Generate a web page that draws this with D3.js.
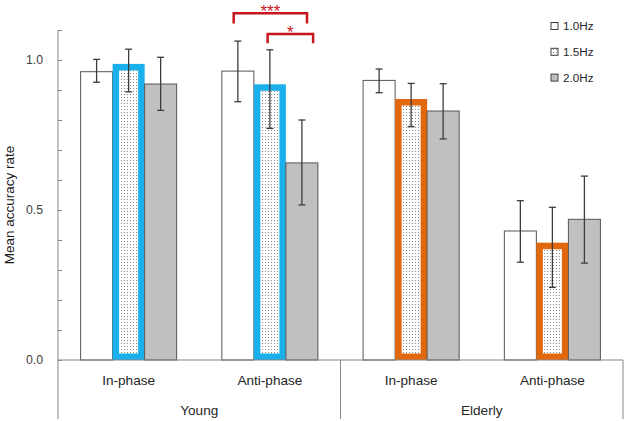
<!DOCTYPE html>
<html><head><meta charset="utf-8">
<script src="https://cdn.jsdelivr.net/npm/d3@7"></script>
<style>body{margin:0;background:#fff}svg{display:block}</style>
</head><body><svg id="c" width="630" height="421"></svg>
<script>
// ---- data ----
const categories = ["Young|In-phase","Young|Anti-phase","Elderly|In-phase","Elderly|Anti-phase"];
const conditionLabels = ["In-phase","Anti-phase","In-phase","Anti-phase"];
const groupLabels = ["Young","Elderly"];
const series = ["1.0Hz","1.5Hz","2.0Hz"];
const values10 = [0.961, 0.963, 0.932, 0.430];
const values15 = [0.987, 0.919, 0.870, 0.391];
const values20 = [0.920, 0.657, 0.830, 0.469];
const errHigh10 = [1.002, 1.063, 0.970, 0.531];
const errLow10  = [0.926, 0.861, 0.891, 0.326];
const errHigh15 = [1.036, 1.034, 0.922, 0.509];
const errLow15  = [0.894, 0.772, 0.778, 0.242];
const errHigh20 = [1.009, 0.800, 0.921, 0.613];
const errLow20  = [0.832, 0.517, 0.737, 0.323];
const yTickLabels = [0, 0.5, 1.0];
const yMinorTicks = [0,0.1,0.2,0.3,0.4,0.5,0.6,0.7,0.8,0.9,1.0,1.1];
const highlightColors = ["#1ab0ec","#1ab0ec","#e2680e","#e2680e"];
const sigLabels = ["***","*"];
const sigCategory = [1, 1];
const sigFrom = [0, 1];
const sigTo = [2, 2];
const sigFromFrac = [0.37, 0.43];
const sigToFrac = [0.66, 0.85];
const sigLevel = [1.156, 1.087];
const sigLeg = [1.122, 1.056];

const valuesBySeries = [values10, values15, values20];
const highBySeries = [errHigh10, errHigh15, errHigh20];
const lowBySeries = [errLow10, errLow15, errLow20];

// ---- layout ----
const svg = d3.select("#c");
const mLeft = 58, mRight = 623, mTop = 30, mBottom = 360;
const x = d3.scaleBand().domain(categories).range([mLeft, mRight]).padding(0);
const xs = d3.scaleBand().domain(series).range([x.bandwidth()*0.16, x.bandwidth()*0.84]).padding(0);
const y = d3.scaleLinear().domain([0, 1.1]).range([mBottom, mTop]);

const defs = svg.append("defs");
const pat = defs.append("pattern").attr("id","dots").attr("patternUnits","userSpaceOnUse")
  .attr("width",3).attr("height",3);
pat.append("rect").attr("width",3).attr("height",3).attr("fill","#ffffff");
pat.append("rect").attr("x",1).attr("y",1).attr("width",1).attr("height",1).attr("fill","#8a8a8a");

const axisColor = "#868686";
const edge = "#555555";
const font = "Liberation Sans, Arial, sans-serif";

// bars
const bars = [];
categories.forEach((c, ci) => series.forEach((s, si) => {
  bars.push({c, ci, s, si, v: valuesBySeries[si][ci], hi: highBySeries[si][ci], lo: lowBySeries[si][ci]});
}));
const g = svg.append("g");
bars.forEach(b => {
  const bx = x(b.c) + xs(b.s), bw = xs.bandwidth();
  const by = y(b.v), bh = y(0) - y(b.v);
  if (b.si === 0) {
    g.append("rect").attr("x", bx).attr("y", by).attr("width", bw).attr("height", bh)
      .attr("fill", "#ffffff").attr("stroke", edge).attr("stroke-width", 1);
  } else if (b.si === 2) {
    g.append("rect").attr("x", bx).attr("y", by).attr("width", bw).attr("height", bh)
      .attr("fill", "#c0c0c0").attr("stroke", edge).attr("stroke-width", 1);
  } else {
    const sw = 6.5;
    g.append("rect").attr("x", bx + sw/2).attr("y", by + sw/2).attr("width", bw - sw).attr("height", bh - sw)
      .attr("fill", "url(#dots)").attr("stroke", highlightColors[b.ci]).attr("stroke-width", sw);
  }
});

// error bars
bars.forEach(b => {
  const cx = x(b.c) + xs(b.s) + xs.bandwidth()/2;
  const eg = svg.append("g").attr("stroke", "#3c3c3c").attr("stroke-width", 1.3);
  eg.append("line").attr("x1", cx).attr("x2", cx).attr("y1", y(b.hi)).attr("y2", y(b.lo));
  eg.append("line").attr("x1", cx-3.5).attr("x2", cx+3.5).attr("y1", y(b.hi)).attr("y2", y(b.hi));
  eg.append("line").attr("x1", cx-3.5).attr("x2", cx+3.5).attr("y1", y(b.lo)).attr("y2", y(b.lo));
});

// y axis
const yAxisG = svg.append("g").attr("transform", `translate(${mLeft},0)`);
yAxisG.call(d3.axisRight(y).tickValues(yMinorTicks).tickSize(4).tickFormat(""));
yAxisG.select(".domain").remove();
yAxisG.selectAll(".tick line").attr("stroke", axisColor);
svg.append("line").attr("x1", mLeft).attr("x2", mLeft).attr("y1", y(1.1)).attr("y2", y(0)).attr("stroke", axisColor);
const yLab = svg.append("g").attr("transform", `translate(${mLeft},0)`)
  .call(d3.axisLeft(y).tickValues(yTickLabels).tickSize(0).tickPadding(15).tickFormat(d3.format(".1f")));
yLab.select(".domain").remove();
yLab.selectAll("text").attr("font-family", font).attr("font-size", 12.3).attr("fill","#404040");

svg.append("text").attr("transform", `translate(14,${(y(0)+y(1.1))/2+10}) rotate(-90)`)
  .attr("text-anchor","middle").attr("font-family", font)
  .attr("font-size", 13.5).attr("fill","#1a1a1a").text("Mean accuracy rate");

// x axis (multi-level category)
svg.append("line").attr("x1", mLeft).attr("x2", mRight).attr("y1", mBottom).attr("y2", mBottom).attr("stroke", axisColor).attr("stroke-width", 1.2);
const groupScale = d3.scaleBand().domain(groupLabels).range([mLeft, mRight]);
[mLeft, groupScale("Elderly"), mRight].forEach(xx => {
  svg.append("line").attr("x1", xx).attr("x2", xx).attr("y1", mBottom).attr("y2", 419).attr("stroke", axisColor);
});
categories.forEach((c, i) => {
  svg.append("text").attr("x", x(c) + x.bandwidth()/2).attr("y", 385)
    .attr("text-anchor","middle").attr("font-family", font)
    .attr("font-size", 13.6).attr("fill","#262626").text(conditionLabels[i]);
});
groupLabels.forEach(gl => {
  svg.append("text").attr("x", groupScale(gl) + groupScale.bandwidth()/2).attr("y", 415)
    .attr("text-anchor","middle").attr("font-family", font)
    .attr("font-size", 13.6).attr("fill","#262626").text(gl);
});

// significance brackets
sigLabels.forEach((lab, i) => {
  const c = categories[sigCategory[i]];
  const x1 = x(c) + xs(series[sigFrom[i]]) + xs.bandwidth()*sigFromFrac[i];
  const x2 = x(c) + xs(series[sigTo[i]]) + xs.bandwidth()*sigToFrac[i];
  svg.append("path").attr("d", `M${x1},${y(sigLeg[i])}V${y(sigLevel[i])}H${x2}V${y(sigLeg[i])}`)
    .attr("fill","none").attr("stroke","#c8161d").attr("stroke-width", 2.5);
  svg.append("text").attr("x", (x1+x2)/2).attr("y", y(sigLevel[i]) + 4)
    .attr("text-anchor","middle").attr("font-family", font)
    .attr("font-size", 17).attr("fill","#c8161d").text(lab);
});

// legend
const legendFill = ["#ffffff","url(#dots)","#c0c0c0"];
series.forEach((s, i) => {
  const ly = 26 + i*25.8;
  svg.append("rect").attr("x", 551).attr("y", ly - 3.5).attr("width", 7).attr("height", 7)
    .attr("fill", legendFill[i]).attr("stroke", "#404040").attr("stroke-width", 1);
  svg.append("text").attr("x", 563).attr("y", ly + 4.2).attr("font-family", font)
    .attr("font-size", 11.7).attr("fill","#262626").text(s);
});
</script>
</body></html>
